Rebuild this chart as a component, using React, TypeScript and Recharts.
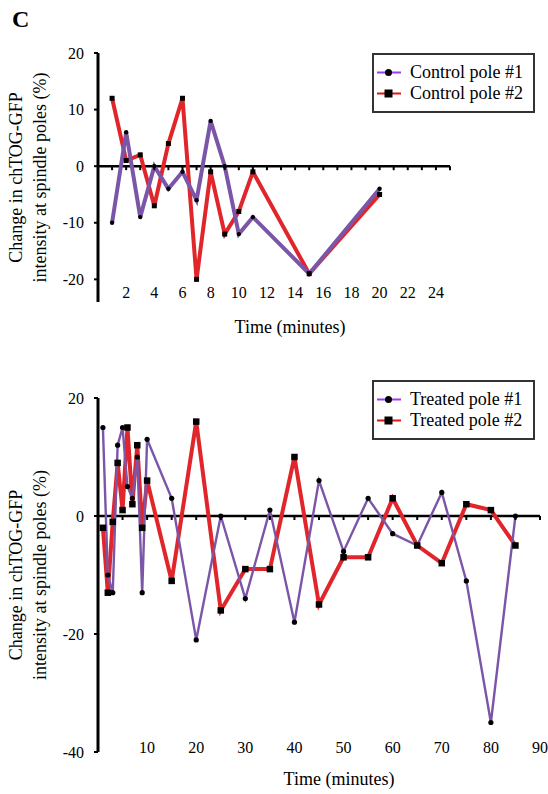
import React from 'react'
import {
  LineChart, Line, XAxis, YAxis, ReferenceLine, ReferenceDot, Legend, Label,
} from 'recharts'

// ── Data ──────────────────────────────────────────────────────────────────────

const controlTime = [1, 2, 3, 4, 5, 6, 7, 8, 9, 10, 11, 15, 20]
const controlPole1 = [-10, 6, -9, 0, -4, -1, -6, 8, 0, -12, -9, -19, -4]
const controlPole2 = [12, 1, 2, -7, 4, 12, -20, -1, -12, -8, -1, -19, -5]
const controlNames = ['Control pole #1', 'Control pole #2']
const controlXTicks = [2, 4, 6, 8, 10, 12, 14, 16, 18, 20, 22, 24]
const controlZeroTicks = [1, 2, 3, 4, 5, 6, 7, 8, 9, 10, 11, 12, 13, 14, 15, 16, 17, 18, 19, 20, 21, 22, 23, 24, 25]
const controlYTicks = [-20, -10, 0, 10, 20]

const treatedTime = [1, 2, 3, 4, 5, 6, 7, 8, 9, 10, 15, 20, 25, 30, 35, 40, 45, 50, 55, 60, 65, 70, 75, 80, 85]
const treatedPole1 = [15, -10, -13, 12, 15, 5, 3, 10, -13, 13, 3, -21, 0, -14, 1, -18, 6, -6, 3, -3, -5, 4, -11, -35, 0]
const treatedPole2 = [-2, -13, -1, 9, 1, 15, 2, 12, -2, 6, -11, 16, -16, -9, -9, 10, -15, -7, -7, 3, -5, -8, 2, 1, -5]
const treatedNames = ['Treated pole #1', 'Treated pole #2']
const treatedXTicks = [10, 20, 30, 40, 50, 60, 70, 80, 90]
const treatedZeroTicks = [5, 10, 15, 20, 25, 30, 35, 40, 45, 50, 55, 60, 65, 70, 75, 80, 85, 90]
const treatedYTicks = [-40, -20, 0, 20]

// ── Styles ────────────────────────────────────────────────────────────────────

const SERIF = '"Liberation Serif", "Times New Roman", "DejaVu Serif", serif'
const PURPLE = '#7b56a8'
const RED = '#e0262b'
const LEGEND_PURPLE = '#9c3cf2'
const LEGEND_RED = '#e01414'

// ── Pieces ────────────────────────────────────────────────────────────────────

function LegendBox({ names }: { names: string[] }) {
  const rows = [
    { name: names[0], color: LEGEND_PURPLE, shape: 'circle' },
    { name: names[1], color: LEGEND_RED, shape: 'square' },
  ]
  return (
    <div style={{
      width: 163, height: 60, boxSizing: 'border-box', border: '2px solid #333',
      background: '#fff', padding: '7px 0 0 3px', fontFamily: SERIF, fontSize: 18, color: '#000',
    }}>
      {rows.map(r => (
        <div key={r.name} style={{ display: 'flex', alignItems: 'center', height: 21 }}>
          <svg width={24} height={21} style={{ display: 'block' }}>
            <line x1={0} x2={24} y1={10.5} y2={10.5} stroke={r.color} strokeWidth={2} />
            {r.shape === 'circle'
              ? <circle cx={11.5} cy={10.5} r={3.5} fill="#000" />
              : <rect x={7.5} y={6.5} width={8} height={8} fill="#000" />}
          </svg>
          <span style={{ marginLeft: 9, lineHeight: '21px', whiteSpace: 'nowrap' }}>{r.name}</span>
        </div>
      ))}
    </div>
  )
}

function YTitle({ viewBox }: any) {
  const cy = viewBox.y + viewBox.height / 2
  return (
    <g fontFamily={SERIF} fontSize={18} fill="#000">
      <text x={16} y={cy} transform={`rotate(-90 16 ${cy})`} textAnchor="middle" dominantBaseline="central">
        Change in chTOG-GFP
      </text>
      <text x={40} y={cy} transform={`rotate(-90 40 ${cy})`} textAnchor="middle" dominantBaseline="central">
        intensity at spindle poles (%)
      </text>
    </g>
  )
}

interface PanelProps {
  time: number[]
  pole1: number[]
  pole2: number[]
  names: string[]
  xDomain: [number, number]
  xTicks: number[]
  zeroTicks: number[]
  yDomain: [number, number]
  yTicks: number[]
  width: number
  height: number
  margin: { top: number; right: number; bottom: number; left: number }
  tickDy: number
  titleX: number
  titleDy: number
  legendTop: number
  purpleWidth: number
  dotR: number
  square: number
}

function PolePanel(p: PanelProps) {
  const data = p.time.map((t, i) => ({ t, p1: p.pole1[i], p2: p.pole2[i] }))

  const xTick = (props: any) => (
    <text x={props.x} y={props.y + p.tickDy} textAnchor="middle"
      fontFamily={SERIF} fontSize={16} fill="#000">{props.payload.value}</text>
  )
  const xTitle = ({ viewBox }: any) => (
    <text x={p.titleX} y={viewBox.y + p.titleDy} textAnchor="middle"
      fontFamily={SERIF} fontSize={18} fill="#000">Time (minutes)</text>
  )
  const circleDot = (props: any) => (
    <circle key={`c${props.index}`} cx={props.cx} cy={props.cy} r={p.dotR} fill="#000" />
  )
  const squareDot = (props: any) => (
    <rect key={`s${props.index}`} x={props.cx - p.square / 2} y={props.cy - p.square / 2}
      width={p.square} height={p.square} fill="#000" />
  )
  const zeroTick = (props: any) => (
    <line x1={props.cx} x2={props.cx} y1={props.cy} y2={props.cy + 4} stroke="#000" strokeWidth={2} />
  )

  return (
    <LineChart width={p.width} height={p.height} data={data} margin={p.margin}>
      <XAxis dataKey="t" type="number" domain={p.xDomain} ticks={p.xTicks} allowDataOverflow
        height={1} axisLine={false} tickLine={false} tickSize={0} tickMargin={0}
        tick={xTick} interval={0}>
        <Label content={xTitle} />
      </XAxis>
      <YAxis type="number" domain={p.yDomain} ticks={p.yTicks} allowDataOverflow width={98}
        axisLine={{ stroke: '#000', strokeWidth: 3 }}
        tickLine={{ stroke: '#000', strokeWidth: 2 }} tickSize={4} tickMargin={10}
        tick={{ fill: '#000', fontSize: 16, fontFamily: SERIF }} interval={0}>
        <Label content={YTitle} />
      </YAxis>
      <ReferenceLine y={0} stroke="#000" strokeWidth={2.5} />
      {p.zeroTicks.map(t => (
        <ReferenceDot key={t} x={t} y={0} r={0} shape={zeroTick} />
      ))}
      <Line type="linear" dataKey="p2" stroke={RED} strokeWidth={4} dot={false}
        activeDot={false} isAnimationActive={false} />
      <Line type="linear" dataKey="p1" stroke={PURPLE} strokeWidth={p.purpleWidth} dot={false}
        activeDot={false} isAnimationActive={false} />
      <Line type="linear" dataKey="p2" stroke="none" dot={squareDot}
        activeDot={false} isAnimationActive={false} legendType="none" />
      <Line type="linear" dataKey="p1" stroke="none" dot={circleDot}
        activeDot={false} isAnimationActive={false} legendType="none" />
      <Legend layout="vertical" align="center" verticalAlign="middle"
        wrapperStyle={{ left: 372, top: p.legendTop, width: 163, height: 60 }}
        content={() => <LegendBox names={p.names} />} />
    </LineChart>
  )
}

// ── App ───────────────────────────────────────────────────────────────────────

export default function App() {
  return (
    <div style={{ position: 'absolute', left: 0, top: 0, width: 548, height: 794, background: '#fff' }}>
      <div style={{
        position: 'absolute', left: 12, top: 4, fontFamily: SERIF, fontWeight: 'bold',
        fontSize: 24, lineHeight: '30px',
      }}>C</div>
      <div style={{ position: 'absolute', left: 0, top: 0 }}>
        <PolePanel
          time={controlTime} pole1={controlPole1} pole2={controlPole2} names={controlNames}
          xDomain={[0, 25]} xTicks={controlXTicks} zeroTicks={controlZeroTicks}
          yDomain={[-24, 20]} yTicks={controlYTicks}
          width={548} height={345} margin={{ top: 53, right: 98, bottom: 42, left: 0 }}
          tickDy={-4} titleX={290} titleDy={31} legendTop={53}
          purpleWidth={4} dotR={2.2} square={5}
        />
      </div>
      <div style={{ position: 'absolute', left: 0, top: 360 }}>
        <PolePanel
          time={treatedTime} pole1={treatedPole1} pole2={treatedPole2} names={treatedNames}
          xDomain={[0, 90]} xTicks={treatedXTicks} zeroTicks={treatedZeroTicks}
          yDomain={[-40, 20]} yTicks={treatedYTicks}
          width={548} height={434} margin={{ top: 38, right: 8, bottom: 41, left: 0 }}
          tickDy={1} titleX={339} titleDy={33} legendTop={20}
          purpleWidth={2.4} dotR={2.6} square={6.5}
        />
      </div>
    </div>
  )
}
